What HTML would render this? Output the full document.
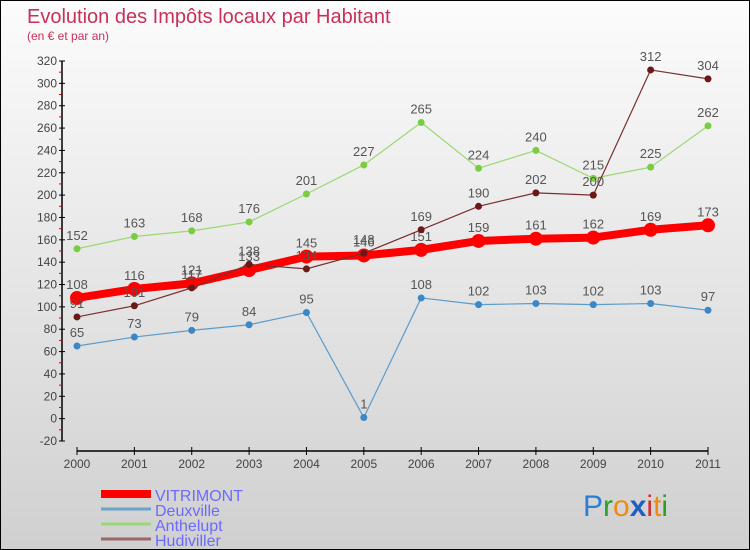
<!DOCTYPE html>
<html><head><meta charset="utf-8">
<style>
body{margin:0;}
#wrap{position:relative;width:748px;height:548px;border:1px solid #000;background:linear-gradient(#fcfcfc,#d0d0d0);font-family:"Liberation Sans",sans-serif;overflow:hidden;}
svg text{font-family:"Liberation Sans",sans-serif;}
</style></head>
<body>
<div id="wrap">
<svg id="chart" width="748" height="548">
<text x="26" y="22" font-size="20" fill="#c8305a">Evolution des Impôts locaux par Habitant</text>
<text x="26" y="39" font-size="12" fill="#c8305a">(en € et par an)</text>
<g id="axes"></g>
<g id="series"></g>
<g id="legend"></g>
<text x="582" y="515" font-size="30"><tspan fill="#2a7fd4">P</tspan><tspan fill="#2aa02a">r</tspan><tspan fill="#f08a10">o</tspan><tspan fill="#1f5fc0" font-weight="bold">x</tspan><tspan fill="#d03030">i</tspan><tspan fill="#f08a10">t</tspan><tspan fill="#2aa02a">i</tspan></text>
</svg>
</div>
<script>
const years=[2000,2001,2002,2003,2004,2005,2006,2007,2008,2009,2010,2011];
const yTicks=[-20,0,20,40,60,80,100,120,140,160,180,200,220,240,260,280,300,320];
const vitrimont=[108,116,121,133,145,146,151,159,161,162,169,173];
const deuxville=[65,73,79,84,95,1,108,102,103,102,103,97];
const anthelupt=[152,163,168,176,201,227,265,224,240,215,225,262];
const hudiviller=[91,101,117,138,134,148,169,190,202,200,312,304];
const seriesNames=["VITRIMONT","Deuxville","Anthelupt","Hudiviller"];

const NS="http://www.w3.org/2000/svg";
const X=i=>76+i*(707-76)/(years.length-1);
const Y=v=>60+(320-v)*(380/340);
function mk(tag,attrs,parent){const e=document.createElementNS(NS,tag);for(const k in attrs)e.setAttribute(k,attrs[k]);parent.appendChild(e);return e;}
const axes=document.getElementById('axes');
let ya=mk('line',{x1:61,y1:Y(320),x2:61,y2:Y(-20),stroke:'#000','stroke-width':1.5},axes);


yTicks.forEach((t,i)=>{
  mk('line',{x1:58,y1:Y(t),x2:64,y2:Y(t),stroke:'#000'},axes);
  if(i<yTicks.length-1) mk('line',{x1:58,y1:Y(t+10),x2:61,y2:Y(t+10),stroke:'#e00000'},axes);
  const tx=mk('text',{x:56,y:Y(t)+4,'font-size':12,fill:'#444','text-anchor':'end'},axes);
  tx.textContent=t;
  
  
});
let xa=mk('line',{x1:76,y1:450,x2:707,y2:450,stroke:'#000','stroke-width':1.5},axes);


years.forEach((yr,i)=>{
  mk('line',{x1:X(i),y1:446,x2:X(i),y2:454,stroke:'#000'},axes);
  const tx=mk('text',{x:X(i),y:467,'font-size':12,fill:'#444','text-anchor':'middle'},axes);
  tx.textContent=yr;
  
  
});
const sg=document.getElementById('series');
function draw(data,name,color,dotColor,w,r){
  const g=mk('g',{},sg);
  
  
  const pl=mk('polyline',{points:data.map((v,i)=>X(i)+','+Y(v)).join(' '),fill:'none',stroke:color,'stroke-width':w,'stroke-linejoin':'round'},g);
  
  
  data.forEach((v,i)=>{
    const c=mk('circle',{cx:X(i),cy:Y(v),r:r,fill:dotColor},g);
    
    
    const t=mk('text',{x:X(i),y:Y(v)-9,'font-size':13,fill:'#555','text-anchor':'middle'},g);
    t.textContent=v;
    
    
  });
}
draw(deuxville,'deuxville','#5a9ccc','#3a88c8',1.2,3.5);
draw(anthelupt,'anthelupt','#9ad870','#7acc40',1.2,3.5);
draw(vitrimont,'vitrimont','#ff0000','#ff0000',8,7);
draw(hudiviller,'hudiviller','#7a3030','#6a1818',1.2,3.5);
const lg=document.getElementById('legend');
const lc=['#ff0000','#6aa4cc','#98d878','#986868'];const lw=[8,3,3,3];
seriesNames.forEach((n,i)=>{
  const y=498+i*15;
  const l=mk('line',{x1:100,y1:y-5,x2:150,y2:y-5,stroke:lc[i],'stroke-width':lw[i]},lg);
  
  
  const t=mk('text',{x:154,y:y+2,'font-size':16,fill:'#6a6aff'},lg);
  t.textContent=n;
  
  
});
</script>
</body></html>
